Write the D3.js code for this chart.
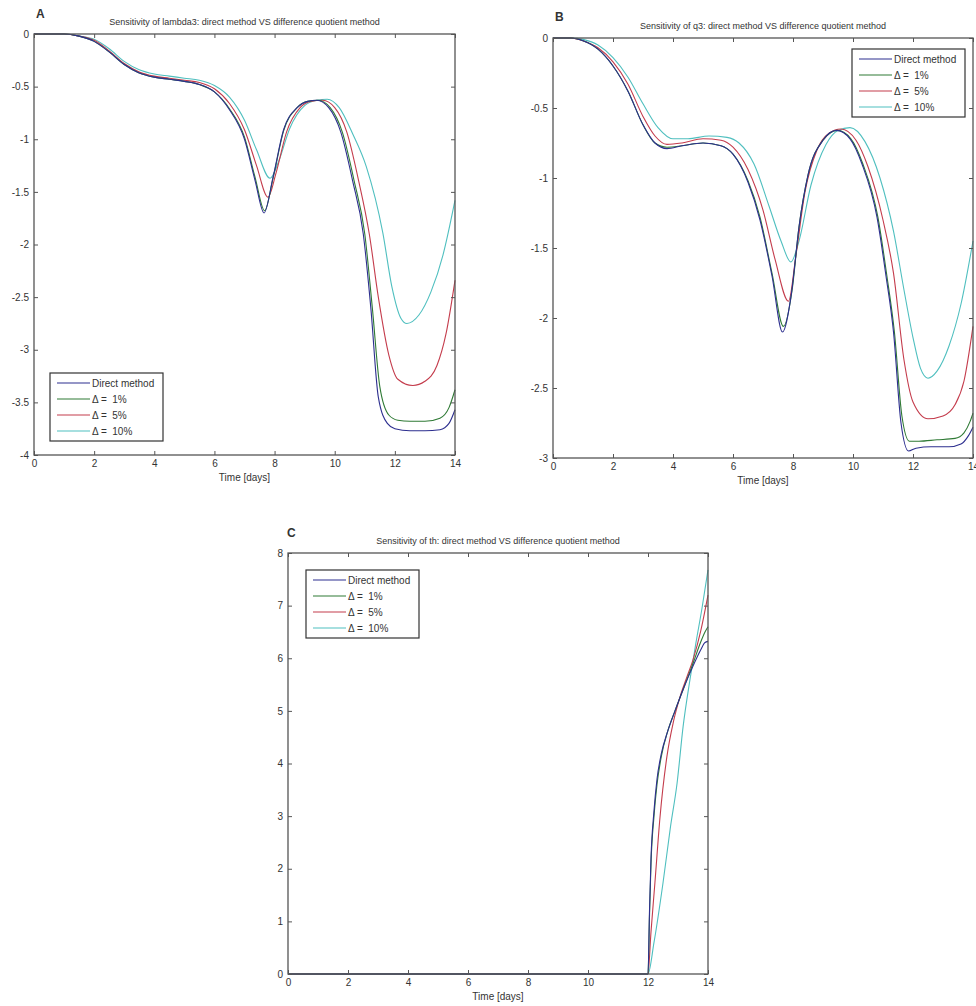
<!DOCTYPE html>
<html>
<head>
<meta charset="utf-8">
<script src="https://cdn.jsdelivr.net/npm/d3@7"></script>
<style>
  body { margin: 0; background: #fff; }
  text { font-family: "Liberation Sans", Arial, sans-serif; fill: #333; }
</style>
</head>
<body>
<div id="chart"></div>
<script>
// legend labels and colours shared by all three panels
const seriesNames = ['Direct method', 'Δ =  1%', 'Δ =  5%', 'Δ =  10%'];
const seriesColors = ['#2d2f8f', '#2f7a35', '#c43c4c', '#4fbfbf'];
const xTicks = [0, 2, 4, 6, 8, 10, 12, 14];

// panel A: sensitivity of lambda3 ([time, value])
const lambdaDirect = [[0,0],[1,0],[1.5,-0.02],[2,-0.07],[2.5,-0.17],[3,-0.29],[3.5,-0.37],[4,-0.41],[4.5,-0.43],[5,-0.45],[5.5,-0.48],[6,-0.55],[6.5,-0.72],[7,-1.0],[7.35,-1.39],[7.65,-1.70],[7.95,-1.36],[8.3,-0.91],[8.75,-0.70],[9.1,-0.64],[9.4,-0.63],[9.8,-0.7],[10.2,-0.93],[10.6,-1.4],[10.95,-1.9],[11.2,-2.6],[11.45,-3.45],[11.75,-3.70],[12,-3.75],[12.5,-3.77],[13,-3.77],[13.5,-3.76],[13.8,-3.70],[14,-3.57]];
const lambda1 = [[0,0],[1,0],[1.5,-0.02],[2,-0.07],[2.5,-0.17],[3,-0.29],[3.5,-0.37],[4,-0.41],[4.5,-0.43],[5,-0.45],[5.5,-0.48],[6,-0.55],[6.5,-0.71],[7,-0.98],[7.35,-1.36],[7.67,-1.68],[7.95,-1.37],[8.3,-0.92],[8.75,-0.70],[9.1,-0.64],[9.45,-0.63],[9.85,-0.7],[10.25,-0.93],[10.65,-1.4],[11,-1.9],[11.25,-2.6],[11.5,-3.35],[11.8,-3.62],[12.1,-3.67],[12.5,-3.68],[13,-3.68],[13.5,-3.65],[13.8,-3.55],[14,-3.38]];
const lambda5 = [[0,0],[1,0],[1.5,-0.02],[2,-0.06],[2.5,-0.16],[3,-0.28],[3.5,-0.36],[4,-0.40],[4.5,-0.42],[5,-0.44],[5.5,-0.46],[6,-0.52],[6.5,-0.66],[7,-0.91],[7.4,-1.25],[7.78,-1.55],[8.05,-1.32],[8.4,-0.93],[8.85,-0.70],[9.2,-0.64],[9.6,-0.63],[10,-0.7],[10.4,-0.93],[10.8,-1.4],[11.15,-1.9],[11.45,-2.5],[11.8,-3.05],[12.1,-3.28],[12.6,-3.34],[13,-3.3],[13.4,-3.15],[13.7,-2.85],[14,-2.34]];
const lambda10 = [[0,0],[1,0],[1.5,-0.02],[2,-0.05],[2.5,-0.14],[3,-0.26],[3.5,-0.34],[4,-0.38],[4.5,-0.40],[5,-0.42],[5.5,-0.44],[6,-0.49],[6.5,-0.6],[7,-0.82],[7.4,-1.1],[7.85,-1.37],[8.15,-1.2],[8.5,-0.9],[9,-0.68],[9.4,-0.63],[9.75,-0.62],[10.15,-0.7],[10.6,-0.95],[11.05,-1.26],[11.6,-1.89],[11.9,-2.4],[12.2,-2.7],[12.4,-2.75],[12.8,-2.67],[13.2,-2.45],[13.6,-2.1],[14,-1.58]];
const lambdaTicks = [0, -0.5, -1, -1.5, -2, -2.5, -3, -3.5, -4];

// panel B: sensitivity of q3
const q3Direct = [[0,0],[0.6,0],[1,-0.02],[1.5,-0.08],[2,-0.2],[2.5,-0.38],[3,-0.62],[3.4,-0.75],[3.8,-0.79],[4.3,-0.77],[5,-0.75],[5.6,-0.77],[6,-0.83],[6.5,-1.03],[6.9,-1.3],[7.3,-1.7],[7.65,-2.1],[7.95,-1.82],[8.2,-1.35],[8.5,-0.98],[9,-0.73],[9.45,-0.66],[9.9,-0.72],[10.3,-0.9],[10.8,-1.28],[11.1,-1.7],[11.35,-2.1],[11.6,-2.75],[11.85,-2.95],[12.1,-2.93],[12.6,-2.92],[13.2,-2.92],[13.6,-2.9],[13.85,-2.84],[14,-2.78]];
const q31 = [[0,0],[0.6,0],[1,-0.02],[1.5,-0.08],[2,-0.2],[2.5,-0.38],[3,-0.62],[3.4,-0.75],[3.8,-0.78],[4.3,-0.77],[5,-0.75],[5.6,-0.77],[6,-0.83],[6.5,-1.02],[6.9,-1.28],[7.3,-1.68],[7.68,-2.06],[7.97,-1.8],[8.2,-1.35],[8.5,-0.98],[9,-0.73],[9.48,-0.66],[9.93,-0.72],[10.33,-0.9],[10.83,-1.28],[11.13,-1.7],[11.38,-2.1],[11.63,-2.7],[11.88,-2.88],[12.2,-2.88],[12.8,-2.87],[13.4,-2.86],[13.7,-2.82],[13.9,-2.74],[14,-2.68]];
const q35 = [[0,0],[0.6,0],[1,-0.02],[1.5,-0.07],[2,-0.17],[2.5,-0.33],[3,-0.56],[3.4,-0.7],[3.8,-0.76],[4.3,-0.75],[5,-0.72],[5.6,-0.73],[6,-0.78],[6.5,-0.94],[7,-1.23],[7.4,-1.58],[7.85,-1.88],[8.1,-1.55],[8.4,-1.1],[8.8,-0.8],[9.2,-0.68],[9.6,-0.65],[10.1,-0.73],[10.5,-0.92],[11,-1.3],[11.35,-1.68],[11.7,-2.3],[12,-2.6],[12.5,-2.72],[13,-2.7],[13.4,-2.62],[13.7,-2.45],[14,-2.06]];
const q310 = [[0,0],[0.6,0],[1,-0.01],[1.5,-0.05],[2,-0.14],[2.5,-0.28],[3,-0.47],[3.5,-0.64],[4,-0.72],[4.5,-0.72],[5.2,-0.7],[5.8,-0.71],[6.2,-0.75],[6.7,-0.9],[7.2,-1.2],[7.6,-1.45],[7.93,-1.6],[8.2,-1.45],[8.6,-1.05],[9.1,-0.76],[9.5,-0.66],[9.9,-0.64],[10.4,-0.74],[10.9,-1.0],[11.35,-1.38],[11.7,-1.8],[12,-2.14],[12.25,-2.36],[12.5,-2.43],[12.8,-2.38],[13.2,-2.2],[13.6,-1.9],[14,-1.45]];
const q3Ticks = [0, -0.5, -1, -1.5, -2, -2.5, -3];

// panel C: sensitivity of th
const thDirect = [[0,0],[12,0],[12.05,1.2],[12.1,2.2],[12.2,3.1],[12.3,3.7],[12.45,4.2],[12.65,4.6],[12.9,5.0],[13.2,5.45],[13.5,5.85],[13.75,6.15],[13.9,6.3],[14,6.32]];
const th1 = [[0,0],[12,0],[12.05,1.1],[12.1,2.1],[12.2,3.0],[12.3,3.6],[12.45,4.15],[12.65,4.6],[12.9,5.0],[13.2,5.45],[13.5,5.9],[13.75,6.3],[13.9,6.5],[14,6.6]];
const th5 = [[0,0],[12,0],[12.1,0.8],[12.23,1.73],[12.4,2.98],[12.63,4.13],[12.85,4.8],[13.07,5.27],[13.3,5.65],[13.5,5.97],[13.75,6.5],[14,7.2]];
const th10 = [[0,0],[12,0],[12.2,0.6],[12.5,1.73],[12.75,2.8],[12.97,3.63],[13.17,4.7],[13.4,5.6],[13.6,6.3],[13.8,6.95],[14,7.68]];
const thTicks = [0, 1, 2, 3, 4, 5, 6, 7, 8];

const svg = d3.select('#chart').append('svg')
  .attr('width', 976)
  .attr('height', 1006);

function drawPanel(p) {
  const x = d3.scaleLinear().domain([0, 14]).range([p.left, p.right]);
  const y = d3.scaleLinear().domain(p.yDomain).range([p.bottom, p.top]);
  const g = svg.append('g');

  const line = d3.line()
    .x(d => x(d[0]))
    .y(d => y(d[1]))
    .curve(d3.curveMonotoneX);

  // draw cyan first so the direct method sits on top
  p.series.slice().reverse().forEach((s, i) => {
    const k = p.series.length - 1 - i;
    g.append('path')
      .datum(s)
      .attr('d', line)
      .attr('fill', 'none')
      .attr('stroke', seriesColors[k])
      .attr('stroke-width', 1.1);
  });

  const axisColor = '#555';
  const fmt = d => String(d);
  const bottomAxis = g.append('g').attr('transform', `translate(0,${p.bottom})`)
    .call(d3.axisBottom(x).tickValues(xTicks).tickSizeInner(-4).tickSizeOuter(0).tickPadding(5).tickFormat(fmt));
  const topAxis = g.append('g').attr('transform', `translate(0,${p.top})`)
    .call(d3.axisTop(x).tickValues(xTicks).tickSizeInner(-4).tickSizeOuter(0).tickFormat(''));
  const leftAxis = g.append('g').attr('transform', `translate(${p.left},0)`)
    .call(d3.axisLeft(y).tickValues(p.yTicks).tickSizeInner(-4).tickSizeOuter(0).tickPadding(5).tickFormat(fmt));
  const rightAxis = g.append('g').attr('transform', `translate(${p.right},0)`)
    .call(d3.axisRight(y).tickValues(p.yTicks).tickSizeInner(-4).tickSizeOuter(0).tickFormat(''));

  [bottomAxis, topAxis, leftAxis, rightAxis].forEach(a => {
    a.select('.domain').remove();
    a.selectAll('line').attr('stroke', axisColor).attr('stroke-width', 1);
    a.selectAll('text').style('font-size', '10px').attr('fill', '#333');
  });

  g.append('rect')
    .attr('x', p.left).attr('y', p.top)
    .attr('width', p.right - p.left).attr('height', p.bottom - p.top)
    .attr('fill', 'none').attr('stroke', axisColor).attr('stroke-width', 1.3);

  g.append('text')
    .attr('x', (p.left + p.right) / 2).attr('y', p.top - 9)
    .attr('text-anchor', 'middle')
    .style('font-size', '9px')
    .text(p.title);

  g.append('text')
    .attr('x', (p.left + p.right) / 2).attr('y', p.bottom + 26)
    .attr('text-anchor', 'middle')
    .style('font-size', '10px')
    .text('Time [days]');

  g.append('text')
    .attr('x', p.labelX).attr('y', p.labelY)
    .style('font-size', '12px').style('font-weight', 'bold')
    .attr('fill', '#111')
    .text(p.label);

  // legend
  const lg = g.append('g').attr('transform', `translate(${p.legendX},${p.legendY})`);
  lg.append('rect')
    .attr('width', 113).attr('height', 68)
    .attr('fill', '#fff').attr('stroke', '#333').attr('stroke-width', 1.2);
  seriesNames.forEach((name, i) => {
    const yy = 10 + i * 16;
    lg.append('line')
      .attr('x1', 7).attr('x2', 40).attr('y1', yy).attr('y2', yy)
      .attr('stroke', seriesColors[i]).attr('stroke-width', 1.2);
    lg.append('text')
      .attr('x', 42).attr('y', yy + 3.5)
      .style('font-size', '10px').style('white-space', 'pre')
      .text(name);
  });
}

drawPanel({
  left: 34, right: 455, top: 34, bottom: 455,
  yDomain: [-4, 0], yTicks: lambdaTicks,
  series: [lambdaDirect, lambda1, lambda5, lambda10],
  title: 'Sensitivity of lambda3: direct method VS difference quotient method',
  label: 'A', labelX: 36, labelY: 18,
  legendX: 50, legendY: 373
});

drawPanel({
  left: 553, right: 973, top: 38, bottom: 458,
  yDomain: [-3, 0], yTicks: q3Ticks,
  series: [q3Direct, q31, q35, q310],
  title: 'Sensitivity of q3: direct method VS difference quotient method',
  label: 'B', labelX: 555, labelY: 21,
  legendX: 852, legendY: 49
});

drawPanel({
  left: 288, right: 708, top: 553, bottom: 974,
  yDomain: [0, 8], yTicks: thTicks,
  series: [thDirect, th1, th5, th10],
  title: 'Sensitivity of th: direct method VS difference quotient method',
  label: 'C', labelX: 287, labelY: 537,
  legendX: 306, legendY: 570
});
</script>
</body>
</html>
